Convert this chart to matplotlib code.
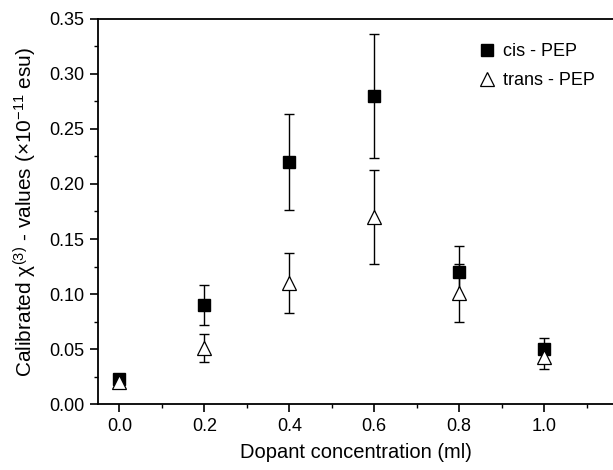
import numpy as np
import matplotlib
matplotlib.use("Agg")
import matplotlib.pyplot as plt
from matplotlib.ticker import MultipleLocator, FormatStrFormatter

plt.rcParams['font.family'] = ['Liberation Sans', 'DejaVu Sans']
plt.rcParams['mathtext.fontset'] = 'custom'
plt.rcParams['mathtext.rm'] = 'Liberation Sans'
plt.rcParams['mathtext.it'] = 'Liberation Sans:italic'

# data
dopant = [0.0, 0.2, 0.4, 0.6, 0.8, 1.0]
cis_pep = [0.023, 0.090, 0.220, 0.280, 0.120, 0.050]
cis_err = [0.003, 0.018, 0.044, 0.056, 0.024, 0.010]
trans_pep = [0.020, 0.051, 0.110, 0.170, 0.101, 0.043]
trans_err = [0.005, 0.013, 0.027, 0.043, 0.026, 0.011]


def main():
    fig = plt.figure(figsize=(6.13, 4.70), dpi=100)
    ax = fig.add_axes([0.16, 0.1404, 0.84, 0.8192])

    # error bars first, markers on top
    ax.errorbar(dopant, cis_pep, yerr=cis_err, fmt='none', ecolor='black',
                elinewidth=1, capsize=3.5, capthick=1, zorder=2)
    ax.errorbar(dopant, trans_pep, yerr=trans_err, fmt='none', ecolor='black',
                elinewidth=1, capsize=3.5, capthick=1, zorder=2)
    ax.plot(dopant, cis_pep, 's', color='black', markersize=8,
            label='cis - PEP', zorder=3)
    ax.plot(dopant, trans_pep, '^', markerfacecolor='white',
            markeredgecolor='black', markeredgewidth=0.9, markersize=10.5,
            label='trans - PEP', zorder=4)

    ax.set_xlim(-0.05, 1.162)
    ax.set_ylim(0, 0.35)
    ax.xaxis.set_major_locator(MultipleLocator(0.2))
    ax.xaxis.set_minor_locator(MultipleLocator(0.1))
    ax.yaxis.set_major_locator(MultipleLocator(0.05))
    ax.yaxis.set_minor_locator(MultipleLocator(0.025))
    ax.xaxis.set_major_formatter(FormatStrFormatter('%.1f'))
    ax.yaxis.set_major_formatter(FormatStrFormatter('%.2f'))

    ax.spines['right'].set_visible(False)
    for s in ['left', 'bottom', 'top']:
        ax.spines[s].set_linewidth(1.3)
    ax.tick_params(which='major', direction='out', length=6, width=1.2,
                   labelsize=13, top=False, right=False, pad=4)
    ax.tick_params(which='minor', direction='out', length=3, width=1.0,
                   top=False, right=False)

    ax.set_xlabel('Dopant concentration (ml)', fontsize=14.5, labelpad=6)
    ax.set_ylabel('Calibrated χ$^{(3)}$ - values (×10$^{-11}$ esu)',
                  fontsize=15, labelpad=7)

    ax.legend(loc='upper right', frameon=False, fontsize=13,
              handletextpad=0.4, borderaxespad=0.3,
              bbox_to_anchor=(0.99, 0.97), handlelength=1.0,
              labelspacing=0.65)

    fig.savefig('out.png', dpi=100)


if __name__ == "__main__":
    main()
